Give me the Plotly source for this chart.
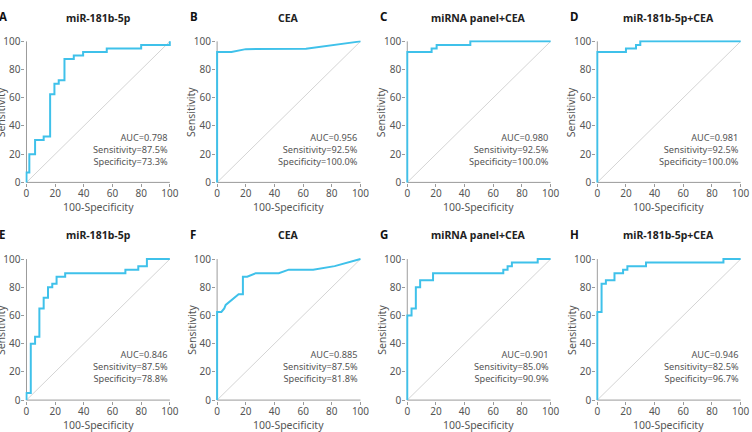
import plotly.graph_objects as go

# ---- data (100-Specificity, Sensitivity) ----
panel_letters = ["A", "B", "C", "D", "E", "F", "G", "H"]
panel_titles = ["miR-181b-5p", "CEA", "miRNA panel+CEA", "miR-181b-5p+CEA",
                "miR-181b-5p", "CEA", "miRNA panel+CEA", "miR-181b-5p+CEA"]
auc = ["0.798", "0.956", "0.980", "0.981", "0.846", "0.885", "0.901", "0.946"]
sens = ["87.5%", "92.5%", "92.5%", "92.5%", "87.5%", "87.5%", "85.0%", "82.5%"]
spec = ["73.3%", "100.0%", "100.0%", "100.0%", "78.8%", "81.8%", "90.9%", "96.7%"]

a_x = [0, 0, 2, 2, 6, 6, 12, 12, 16.5, 16.5, 19.5, 19.5, 22.5, 22.5, 26.5, 26.5, 33, 33, 39.5, 39.5, 56, 56, 80, 80, 100, 100]
a_y = [0, 7, 7, 20, 20, 30, 30, 32.5, 32.5, 62.5, 62.5, 70, 70, 72.5, 72.5, 87.5, 87.5, 90, 90, 92.5, 92.5, 95, 95, 97.5, 97.5, 100]
b_x = [0, 0, 10, 20, 62, 80, 100]
b_y = [0, 92.5, 92.5, 94.5, 94.7, 97.3, 100]
c_x = [0, 0, 17, 17, 20.5, 20.5, 44, 44, 100]
c_y = [0, 92.5, 92.5, 95, 95, 97.5, 97.5, 100, 100]
d_x = [0, 0, 20, 20, 27, 27, 30, 30, 100]
d_y = [0, 92.5, 92.5, 95, 95, 97.5, 97.5, 100, 100]
e_x = [0, 0, 3, 3, 6, 6, 9, 9, 12, 12, 15, 15, 18, 18, 21, 21, 27, 27, 69, 69, 78, 78, 84, 84, 100]
e_y = [0, 5, 5, 40, 40, 45, 45, 65, 65, 72.5, 72.5, 80, 80, 82.5, 82.5, 87.5, 87.5, 90, 90, 92.5, 92.5, 95, 95, 100, 100]
f_x = [0, 0, 3, 5, 6, 15, 18, 18, 21, 27, 43, 50, 67, 82, 100]
f_y = [0, 62.5, 62.5, 65, 67.5, 75, 75, 87.5, 87.5, 90, 90, 92.5, 92.5, 95, 100]
g_x = [0, 0, 3, 3, 6, 6, 9, 9, 18, 18, 67, 67, 70, 70, 73, 73, 91, 91, 100]
g_y = [0, 60, 60, 65, 65, 80, 80, 85, 85, 90, 90, 92.5, 92.5, 95, 95, 97.5, 97.5, 100, 100]
h_x = [0, 0, 3, 3, 6, 6, 12, 12, 18, 18, 21, 21, 34, 34, 88, 88, 100]
h_y = [0, 62.5, 62.5, 82.5, 82.5, 85, 85, 90, 90, 92.5, 92.5, 95, 95, 97.5, 97.5, 100, 100]

curves_x = [a_x, b_x, c_x, d_x, e_x, f_x, g_x, h_x]
curves_y = [a_y, b_y, c_y, d_y, e_y, f_y, g_y, h_y]
tick_vals = [0, 20, 40, 60, 80, 100]
ref_line = [0, 100]

# ---- layout geometry (pixels) ----
W, H = 752, 432
col_x0 = [24.8, 218.0, 410.7, 603.3]
row_top = [36.3, 259.7]
plot_w, plot_h = 145.3, 144.7
pad_px = 1.1  # pixel padding so the 2px curve at 0/100 is not clipped

LINE = "#3fc1ea"
DIAG = "#d4d4d4"
AXIS = "#9a9a9a"
TXT = "#555555"
FONT = "Noto Sans"

fig = go.Figure()
layout = dict(width=W, height=H, margin=dict(l=0, r=0, t=0, b=0),
              paper_bgcolor="white", plot_bgcolor="white", showlegend=False,
              font=dict(family=FONT, size=10, color=TXT))
annotations = []
shapes = []

for i in range(8):
    r, c = divmod(i, 4)
    n = i + 1
    xa = "xaxis" if n == 1 else f"xaxis{n}"
    ya = "yaxis" if n == 1 else f"yaxis{n}"
    xr = "x" if n == 1 else f"x{n}"
    yr = "y" if n == 1 else f"y{n}"
    padx = pad_px * 100.0 / plot_w
    pady = pad_px * 100.0 / plot_h
    x0 = col_x0[c] - pad_px
    x1 = col_x0[c] + plot_w + pad_px
    ytop = row_top[r] - pad_px
    ybot = row_top[r] + plot_h + pad_px
    axis_common = dict(tickvals=tick_vals, showgrid=False,
                       zeroline=False, showline=False,
                       ticks="outside", ticklen=3, tickcolor=AXIS, tickwidth=1,
                       tickfont=dict(family=FONT, size=10, color=TXT), fixedrange=True)
    layout[xa] = dict(axis_common, range=[-padx, 100 + padx], domain=[x0 / W, x1 / W],
                      anchor=yr, ticklabelstandoff=-2)
    layout[ya] = dict(axis_common, range=[-pady, 100 + pady], domain=[1 - ybot / H, 1 - ytop / H],
                      anchor=xr, ticklabelstandoff=-1)

    # axis lines (drawn beneath the curves)
    shapes.append(dict(type="line", xref=xr, yref=yr, x0=0, x1=0, y0=0, y1=100,
                       line=dict(color=AXIS, width=1), layer="below"))
    shapes.append(dict(type="line", xref=xr, yref=yr, x0=0, x1=100, y0=0, y1=0,
                       line=dict(color=AXIS, width=1), layer="below"))

    fig.add_trace(go.Scatter(x=ref_line, y=ref_line, mode="lines", xaxis=xr, yaxis=yr,
                             line=dict(color=DIAG, width=1), hoverinfo="skip"))
    fig.add_trace(go.Scatter(x=curves_x[i], y=curves_y[i], mode="lines", xaxis=xr, yaxis=yr,
                             line=dict(color=LINE, width=2)))

    # panel title
    annotations.append(dict(text=f"<b>{panel_titles[i]}</b>", xref=f"{xr} domain", yref=f"{yr} domain",
                            x=0.5, y=1, yshift=21.5 + pad_px, showarrow=False, xanchor="center",
                            yanchor="middle", font=dict(family=FONT, size=10.5, color="#222222")))
    # panel letter
    annotations.append(dict(text=f"<b>{panel_letters[i]}</b>", xref=f"{xr} domain", yref=f"{yr} domain",
                            x=0, y=1, xshift=-29.5 + pad_px, yshift=22.5 + pad_px, showarrow=False,
                            xanchor="left", yanchor="middle",
                            font=dict(family=FONT, size=11.5, color="#111111")))
    # axis titles
    annotations.append(dict(text="100-Specificity", xref=f"{xr} domain", yref=f"{yr} domain",
                            x=0.5, y=0, yshift=-24.5 + pad_px, showarrow=False, xanchor="center",
                            yanchor="middle", font=dict(family=FONT, size=10.5, color=TXT)))
    annotations.append(dict(text="Sensitivity", xref=f"{xr} domain", yref=f"{yr} domain",
                            x=0, y=0.5, xshift=-26 + pad_px, showarrow=False, xanchor="center",
                            yanchor="middle", textangle=-90,
                            font=dict(family=FONT, size=10.5, color=TXT)))
    # stats
    stats = f"AUC={auc[i]}<br>Sensitivity={sens[i]}<br>Specificity={spec[i]}"
    annotations.append(dict(text=stats, xref=xr, yref=yr, x=100, y=23.6, showarrow=False,
                            xanchor="right", yanchor="middle", align="right",
                            font=dict(family=FONT, size=9.2, color=TXT)))

layout["annotations"] = annotations
layout["shapes"] = shapes
fig.update_layout(**layout)
fig.write_html("out.html")
